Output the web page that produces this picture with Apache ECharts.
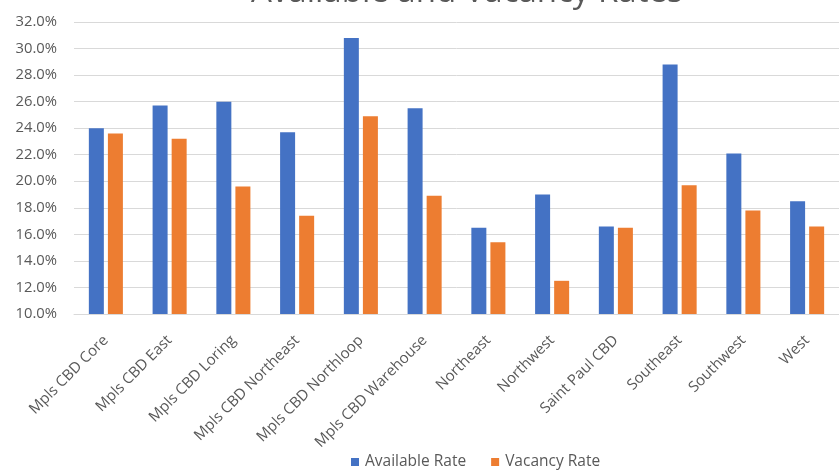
<!DOCTYPE html>
<html>
<head>
<meta charset="utf-8">
<script src="https://cdn.jsdelivr.net/npm/echarts@6/dist/echarts.min.js"></script>
<style>
  html, body { margin: 0; padding: 0; background: #fff; }
  #chart { width: 839px; height: 471px; }
</style>
</head>
<body>
<div id="chart"></div>
<script>
// Submarkets along the category axis
const submarkets = [
  'Mpls CBD Core', 'Mpls CBD East', 'Mpls CBD Loring', 'Mpls CBD Northeast',
  'Mpls CBD Northloop', 'Mpls CBD Warehouse', 'Northeast', 'Northwest',
  'Saint Paul CBD', 'Southeast', 'Southwest', 'West'
];

// Rates in percent
const availableRate = [24.0, 25.7, 26.0, 23.7, 30.8, 25.5, 16.5, 19.0, 16.6, 28.8, 22.1, 18.5];
const vacancyRate   = [23.6, 23.2, 19.6, 17.4, 24.9, 18.9, 15.4, 12.5, 16.5, 19.7, 17.8, 16.6];

// Value axis ticks
const yMin = 10, yMax = 32, yStep = 2;

const FONT = '"Open Sans", sans-serif';
const GREY = '#595959';

const chart = echarts.init(document.getElementById('chart'), null, { renderer: 'canvas' });
chart.setOption({
  animation: false,
  backgroundColor: '#ffffff',
  title: {
    text: 'Available and Vacancy Rates',
    left: 246,
    top: -29,
    textStyle: { fontFamily: FONT, fontSize: 33, fontWeight: 'normal', color: GREY }
  },
  legend: {
    top: 449,
    left: 346,
    itemWidth: 8,
    itemHeight: 8,
    itemGap: 25,
    icon: 'rect',
    textStyle: { fontFamily: FONT, fontSize: 15.5, color: GREY, padding: [0, 0, 0, 1] }
  },
  grid: { left: 74, top: 22, width: 778, bottom: 157, containLabel: false },
  xAxis: {
    type: 'category',
    data: submarkets,
    axisLine: { show: true, lineStyle: { color: '#d9d9d9' } },
    axisTick: { show: false },
    axisLabel: {
      rotate: 45,
      interval: 0,
      margin: 24,
      fontFamily: FONT,
      fontSize: 15,
      color: GREY
    }
  },
  yAxis: {
    type: 'value',
    min: yMin,
    max: yMax,
    interval: yStep,
    axisLine: { show: false },
    axisTick: { show: false },
    splitLine: { lineStyle: { color: '#d9d9d9', width: 1 } },
    axisLabel: {
      margin: 17,
      fontFamily: FONT,
      fontSize: 14.8,
      color: GREY,
      formatter: v => v.toFixed(1) + '%'
    }
  },
  series: [
    {
      name: 'Available Rate',
      type: 'bar',
      data: availableRate,
      barWidth: 15,
      barGap: '27%',
      itemStyle: { color: '#4472C4' }
    },
    {
      name: 'Vacancy Rate',
      type: 'bar',
      data: vacancyRate,
      barWidth: 15,
      barGap: '27%',
      itemStyle: { color: '#ED7D31' }
    }
  ]
});
</script>
</body>
</html>
